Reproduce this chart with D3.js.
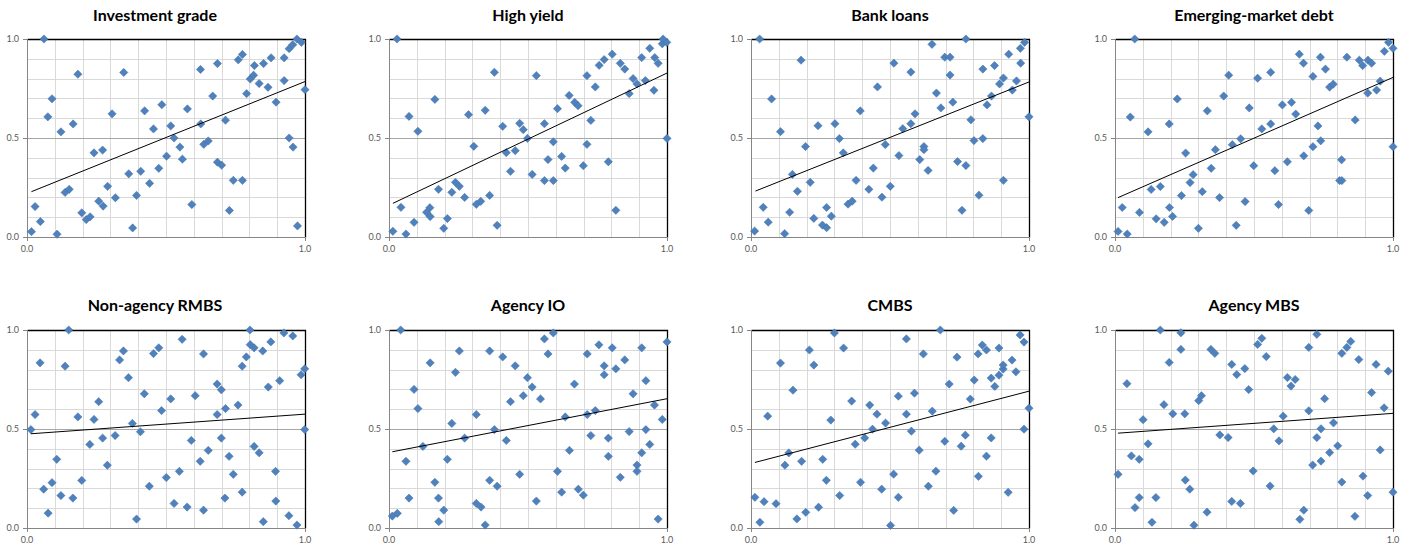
<!DOCTYPE html>
<meta charset="utf-8">
<html>
<head>
<style>
body {
  margin: 0;
  background: #fff;
}
.title {
  font-family: Lato, "Open Sans", sans-serif;
  font-weight: bold;
  font-size: 16px;
  fill: #000;
}
.tick-label {
  font-family: Lato, "Open Sans", sans-serif;
  font-size: 9px;
  fill: #595959;
}
</style>
</head>
<body>

<div id="my_dataviz"></div>

<script src="https://d3js.org/d3.v7.min.js"></script>
<script>

// panel titles
var titles = ["Investment grade", "High yield", "Bank loans", "Emerging-market debt",
              "Non-agency RMBS", "Agency IO", "CMBS", "Agency MBS"];

// axis tick labels
var yTickValues = [0, 0.5, 1];
var xTickValues = [0, 1];

// Investment grade
var igX = [0.016,0.029,0.061,0.048,0.075,0.090,0.108,0.122,0.137,0.152,0.166,0.183,0.197,0.213,0.227,0.241,0.258,0.274,0.272,0.290,0.306,0.318,0.348,0.366,0.380,0.394,0.409,0.423,0.441,0.455,0.474,0.485,0.502,0.517,0.529,0.550,0.559,0.577,0.593,0.624,0.625,0.636,0.652,0.668,0.685,0.685,0.700,0.714,0.728,0.742,0.760,0.775,0.775,0.790,0.803,0.815,0.818,0.835,0.851,0.867,0.878,0.896,0.925,0.925,0.943,0.943,0.956,0.957,0.971,0.973,0.987,1.0];
var igY = [0.027,0.154,1.0,0.078,0.607,0.698,0.014,0.531,0.225,0.241,0.571,0.822,0.122,0.088,0.102,0.425,0.181,0.156,0.439,0.256,0.622,0.198,0.831,0.319,0.046,0.210,0.332,0.637,0.271,0.546,0.347,0.668,0.408,0.561,0.5,0.454,0.393,0.647,0.164,0.846,0.571,0.468,0.485,0.712,0.876,0.378,0.363,0.590,0.134,0.286,0.895,0.922,0.286,0.724,0.798,0.817,0.866,0.775,0.876,0.756,0.905,0.681,0.905,0.790,0.5,0.951,0.971,0.454,1.0,0.056,0.983,0.744];

// High yield
var hyX = [0.014,0.029,0.043,0.061,0.072,0.090,0.104,0.135,0.147,0.148,0.165,0.178,0.197,0.210,0.226,0.239,0.253,0.272,0.286,0.305,0.314,0.330,0.346,0.362,0.379,0.389,0.409,0.422,0.437,0.454,0.470,0.483,0.498,0.515,0.530,0.559,0.559,0.572,0.591,0.591,0.606,0.621,0.634,0.648,0.668,0.680,0.699,0.712,0.712,0.726,0.742,0.756,0.774,0.789,0.803,0.816,0.832,0.848,0.864,0.878,0.892,0.909,0.922,0.938,0.953,0.956,0.968,0.983,0.986,0.999,1.0];
var hyY = [0.029,1.0,0.150,0.015,0.609,0.074,0.534,0.125,0.148,0.103,0.695,0.241,0.044,0.093,0.226,0.276,0.256,0.200,0.618,0.458,0.165,0.180,0.640,0.210,0.832,0.059,0.559,0.426,0.332,0.436,0.574,0.542,0.498,0.316,0.815,0.572,0.285,0.391,0.285,0.481,0.648,0.407,0.348,0.715,0.680,0.663,0.360,0.815,0.468,0.589,0.758,0.867,0.896,0.380,0.923,0.135,0.877,0.848,0.724,0.800,0.773,0.906,0.790,0.953,0.741,0.906,0.877,0.976,1.0,0.983,0.498];

// Bank loans
var blX = [0.013,0.031,0.044,0.062,0.074,0.106,0.121,0.139,0.149,0.167,0.180,0.196,0.213,0.226,0.241,0.257,0.272,0.272,0.289,0.302,0.318,0.332,0.349,0.364,0.378,0.393,0.424,0.440,0.455,0.471,0.483,0.501,0.514,0.532,0.546,0.575,0.575,0.590,0.607,0.622,0.622,0.637,0.651,0.667,0.683,0.697,0.716,0.716,0.726,0.743,0.759,0.773,0.773,0.791,0.802,0.820,0.834,0.834,0.849,0.865,0.876,0.894,0.908,0.908,0.927,0.940,0.955,0.969,0.970,0.984,1.0];
var blY = [0.030,1.0,0.150,0.075,0.697,0.532,0.017,0.125,0.316,0.231,0.893,0.457,0.276,0.094,0.562,0.060,0.149,0.047,0.105,0.572,0.497,0.425,0.166,0.181,0.286,0.637,0.241,0.348,0.758,0.201,0.467,0.256,0.878,0.411,0.547,0.833,0.572,0.622,0.391,0.457,0.441,0.336,0.973,0.727,0.652,0.908,0.908,0.818,0.681,0.381,0.135,1.0,0.361,0.592,0.487,0.211,0.848,0.497,0.667,0.712,0.866,0.773,0.803,0.286,0.923,0.742,0.788,0.953,0.878,0.983,0.607];

// Emerging-market debt
var emX = [0.011,0.026,0.044,0.055,0.071,0.088,0.119,0.130,0.148,0.163,0.177,0.196,0.195,0.207,0.224,0.239,0.254,0.270,0.281,0.300,0.314,0.332,0.346,0.361,0.376,0.391,0.409,0.422,0.436,0.452,0.468,0.483,0.499,0.513,0.528,0.560,0.560,0.575,0.588,0.602,0.620,0.635,0.650,0.663,0.678,0.679,0.697,0.712,0.712,0.730,0.739,0.740,0.757,0.772,0.785,0.808,0.815,0.816,0.834,0.864,0.879,0.891,0.909,0.910,0.923,0.941,0.954,0.969,0.984,1.0,1.0];
var emY = [0.028,0.149,0.015,0.606,1.0,0.124,0.531,0.240,0.092,0.255,0.074,0.149,0.571,0.104,0.697,0.209,0.424,0.275,0.315,0.044,0.229,0.637,0.347,0.441,0.199,0.712,0.817,0.466,0.059,0.496,0.179,0.652,0.360,0.802,0.546,0.832,0.571,0.335,0.164,0.667,0.380,0.680,0.621,0.923,0.878,0.410,0.134,0.811,0.456,0.561,0.908,0.486,0.848,0.757,0.772,0.285,0.390,0.285,0.908,0.591,0.893,0.866,0.727,0.893,0.878,0.742,0.787,0.938,0.983,0.953,0.456];

// Non-agency RMBS
var naX = [0.014,0.029,0.047,0.060,0.076,0.090,0.107,0.122,0.137,0.150,0.165,0.183,0.197,0.226,0.241,0.258,0.272,0.289,0.317,0.333,0.347,0.365,0.379,0.394,0.408,0.422,0.440,0.455,0.474,0.484,0.501,0.517,0.529,0.548,0.558,0.576,0.591,0.605,0.623,0.635,0.635,0.652,0.684,0.684,0.699,0.699,0.712,0.714,0.727,0.742,0.759,0.774,0.774,0.789,0.802,0.803,0.817,0.817,0.835,0.848,0.850,0.868,0.877,0.894,0.895,0.909,0.924,0.942,0.956,0.971,0.986,0.999,0.999];
var naY = [0.497,0.573,0.834,0.196,0.075,0.229,0.347,0.164,0.817,1.0,0.151,0.561,0.240,0.422,0.548,0.638,0.454,0.317,0.467,0.849,0.894,0.759,0.528,0.045,0.486,0.678,0.211,0.881,0.910,0.593,0.255,0.652,0.124,0.286,0.953,0.106,0.442,0.668,0.337,0.090,0.879,0.392,0.727,0.573,0.698,0.454,0.151,0.603,0.362,0.271,0.621,0.817,0.181,0.864,1.0,0.926,0.910,0.412,0.380,0.894,0.032,0.712,0.940,0.286,0.136,0.744,0.985,0.062,0.970,0.015,0.774,0.804,0.497];

// Agency IO
var ioX = [0.012,0.030,0.042,0.061,0.072,0.090,0.104,0.122,0.148,0.165,0.178,0.179,0.197,0.210,0.226,0.239,0.253,0.272,0.314,0.314,0.331,0.346,0.362,0.362,0.379,0.389,0.409,0.422,0.437,0.454,0.470,0.483,0.498,0.515,0.530,0.545,0.559,0.572,0.591,0.606,0.621,0.634,0.649,0.667,0.681,0.699,0.713,0.713,0.726,0.742,0.755,0.774,0.774,0.789,0.789,0.803,0.816,0.832,0.848,0.864,0.878,0.892,0.892,0.909,0.909,0.924,0.924,0.938,0.955,0.968,0.983,1.0];
var ioY = [0.060,0.074,1.0,0.337,0.151,0.700,0.603,0.412,0.834,0.231,0.151,0.032,0.090,0.347,0.528,0.786,0.894,0.454,0.573,0.124,0.106,0.015,0.894,0.241,0.497,0.211,0.864,0.442,0.638,0.819,0.271,0.668,0.759,0.712,0.136,0.652,0.955,0.879,0.985,0.286,0.181,0.561,0.392,0.727,0.196,0.166,0.879,0.573,0.467,0.593,0.925,0.819,0.774,0.454,0.362,0.910,0.804,0.256,0.849,0.487,0.678,0.318,0.286,0.910,0.380,0.744,0.497,0.422,0.621,0.045,0.548,0.940];

// CMBS
var cmX = [0.014,0.032,0.047,0.060,0.090,0.106,0.122,0.136,0.151,0.165,0.182,0.197,0.210,0.226,0.243,0.258,0.271,0.287,0.300,0.319,0.333,0.362,0.375,0.394,0.409,0.427,0.437,0.453,0.470,0.484,0.502,0.513,0.530,0.530,0.559,0.559,0.577,0.588,0.605,0.620,0.638,0.652,0.665,0.681,0.697,0.713,0.729,0.741,0.756,0.771,0.789,0.803,0.817,0.818,0.832,0.847,0.847,0.864,0.864,0.877,0.892,0.892,0.907,0.907,0.925,0.939,0.953,0.968,0.982,0.982,1.0];
var cmY = [0.155,0.029,0.133,0.565,0.123,0.833,0.317,0.379,0.696,0.046,0.337,0.079,0.899,0.823,0.105,0.347,0.241,0.545,0.985,0.164,0.909,0.641,0.423,0.231,0.455,0.621,0.499,0.575,0.196,0.530,0.013,0.272,0.666,0.155,0.955,0.575,0.489,0.681,0.393,0.879,0.211,0.590,0.287,1.0,0.438,0.727,0.089,0.863,0.413,0.469,0.651,0.747,0.879,0.261,0.924,0.899,0.363,0.757,0.455,0.715,0.909,0.772,0.803,0.823,0.180,0.848,0.789,0.975,0.499,0.939,0.605];

// Agency MBS
var mbX = [0.011,0.043,0.059,0.072,0.087,0.087,0.101,0.119,0.133,0.147,0.163,0.176,0.195,0.208,0.237,0.237,0.251,0.253,0.269,0.284,0.301,0.311,0.331,0.345,0.359,0.377,0.407,0.420,0.420,0.438,0.451,0.467,0.481,0.497,0.513,0.528,0.544,0.558,0.571,0.590,0.605,0.620,0.633,0.648,0.665,0.679,0.697,0.697,0.711,0.726,0.726,0.741,0.741,0.754,0.772,0.786,0.801,0.816,0.816,0.834,0.848,0.863,0.877,0.892,0.909,0.923,0.939,0.954,0.968,0.983,1.0];
var mbY = [0.271,0.729,0.364,0.103,0.347,0.154,0.547,0.425,0.029,0.154,1.0,0.623,0.836,0.577,0.986,0.902,0.577,0.242,0.196,0.014,0.643,0.668,0.080,0.902,0.882,0.470,0.457,0.826,0.134,0.775,0.124,0.805,0.699,0.288,0.927,0.958,0.866,0.212,0.501,0.440,0.565,0.760,0.717,0.750,0.044,0.090,0.592,0.912,0.318,0.457,0.978,0.501,0.338,0.653,0.381,0.531,0.415,0.882,0.232,0.912,0.942,0.059,0.851,0.262,0.164,0.684,0.826,0.394,0.607,0.792,0.181];

// linear trend line ends
var trendX0 = [0.016, 0.014, 0.016, 0.011, 0.014, 0.012, 0.014, 0.011];
var trendY0 = [0.229, 0.170, 0.232, 0.199, 0.476, 0.385, 0.331, 0.479];
var trendX1 = [1, 1, 1, 1, 1, 1, 1, 1];
var trendY1 = [0.785, 0.828, 0.783, 0.806, 0.575, 0.653, 0.691, 0.579];

var seriesX = [igX, hyX, blX, emX, naX, ioX, cmX, mbX];
var seriesY = [igY, hyY, blY, emY, naY, ioY, cmY, mbY];

// layout
var plotW = 278, plotH = 198;
var colLeft = [27, 389, 751, 1115];
var rowTop = [39, 330];
var titleShift = [-11, 0, 0, 0];

var svg = d3.select("#my_dataviz")
  .append("svg")
    .attr("width", 1408)
    .attr("height", 544);

var diamond = d3.symbol().type(d3.symbolSquare).size(34);

titles.forEach(function(title, i) {
  var col = i % 4, row = Math.floor(i / 4);

  var g = svg.append("g")
    .attr("transform", "translate(" + colLeft[col] + "," + rowTop[row] + ")");

  var x = d3.scaleLinear().domain([0, 1]).range([0, plotW]);
  var y = d3.scaleLinear().domain([0, 1]).range([plotH, 0]);

  // title
  g.append("text")
    .attr("class", "title")
    .attr("x", plotW / 2 + titleShift[col])
    .attr("y", row == 0 ? -18 : -19)
    .attr("text-anchor", "middle")
    .text(title);

  // gridlines every 0.1
  var grid = x.ticks(10).filter(function(d) { return d > 0 && d < 1; });
  g.selectAll(".vgrid")
    .data(grid)
    .enter()
    .append("line")
      .attr("x1", function(d) { return Math.round(x(d)) + 0.5; })
      .attr("x2", function(d) { return Math.round(x(d)) + 0.5; })
      .attr("y1", 0)
      .attr("y2", plotH)
      .attr("stroke", "#d9d9d9");
  g.selectAll(".hgrid")
    .data(grid)
    .enter()
    .append("line")
      .attr("x1", 0)
      .attr("x2", plotW)
      .attr("y1", function(d) { return Math.round(y(d)) + 0.5; })
      .attr("y2", function(d) { return Math.round(y(d)) + 0.5; })
      .attr("stroke", function(d) { return Math.abs(d - 0.5) < 1e-6 ? "#a6a6a6" : "#d9d9d9"; });

  // plot border (top/right black), axes (left/bottom grey)
  g.append("path")
    .attr("d", "M0.5,0.5H" + (plotW + 0.5) + "V" + (plotH + 0.5))
    .attr("fill", "none")
    .attr("stroke", "#000")
    .attr("stroke-width", 1.3);
  g.append("path")
    .attr("d", "M0.5,0.5V" + (plotH + 0.5) + "H" + (plotW + 0.5))
    .attr("fill", "none")
    .attr("stroke", "#868686");

  // ticks + labels
  g.selectAll(".ytick")
    .data(yTickValues)
    .enter()
    .append("line")
      .attr("x1", -4).attr("x2", 0)
      .attr("y1", function(d) { return Math.round(y(d)) + 0.5; })
      .attr("y2", function(d) { return Math.round(y(d)) + 0.5; })
      .attr("stroke", "#868686");
  g.selectAll(".ylab")
    .data(yTickValues)
    .enter()
    .append("text")
      .attr("class", "tick-label")
      .attr("x", -8)
      .attr("y", function(d) { return y(d); })
      .attr("dy", "0.35em")
      .attr("text-anchor", "end")
      .text(d3.format(".1f"));

  g.selectAll(".xtick")
    .data(xTickValues)
    .enter()
    .append("line")
      .attr("x1", function(d) { return Math.round(x(d)) + 0.5; })
      .attr("x2", function(d) { return Math.round(x(d)) + 0.5; })
      .attr("y1", plotH).attr("y2", plotH + 4)
      .attr("stroke", "#868686");
  g.selectAll(".xlab")
    .data(xTickValues)
    .enter()
    .append("text")
      .attr("class", "tick-label")
      .attr("x", function(d) { return x(d); })
      .attr("y", plotH + 12)
      .attr("dy", "0.35em")
      .attr("text-anchor", "middle")
      .text(d3.format(".1f"));

  // points
  var pts = d3.zip(seriesX[i], seriesY[i]);
  g.selectAll(".pt")
    .data(pts)
    .enter()
    .append("path")
      .attr("d", diamond)
      .attr("transform", function(d) { return "translate(" + x(d[0]) + "," + y(d[1]) + ") rotate(45)"; })
      .attr("fill", "#4f81bd")
      .attr("stroke", "#4572a7")
      .attr("stroke-width", 0.5);

  // trend line
  g.append("path")
    .datum([[trendX0[i], trendY0[i]], [trendX1[i], trendY1[i]]])
    .attr("d", d3.line()
      .x(function(d) { return x(d[0]); })
      .y(function(d) { return y(d[1]); }))
    .attr("stroke", "#000")
    .attr("stroke-width", 1)
    .attr("fill", "none");
});

</script>
</body>
</html>
